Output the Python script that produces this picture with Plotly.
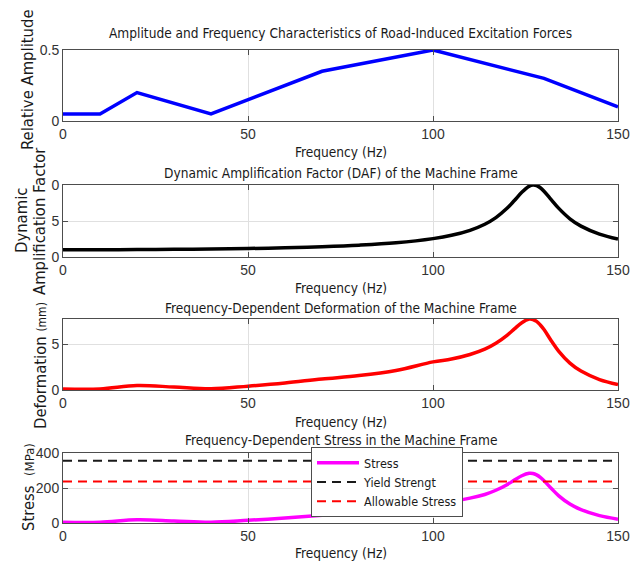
import plotly.graph_objects as go

# ---------------- data ----------------
amp_freq = [0, 10, 20, 40, 70, 100, 130, 150]
amp_vals = [0.05, 0.05, 0.20, 0.05, 0.35, 0.50, 0.30, 0.10]

freq = [0, 10, 20, 30, 40, 50, 60, 70, 80, 90, 100, 105, 110, 114, 117, 120,
        122, 124, 126, 127, 128, 129, 130, 132, 134, 137, 140, 145, 150]
daf = [1.00, 1.01, 1.03, 1.06, 1.11, 1.18, 1.28, 1.43, 1.64, 1.97, 2.55, 3.01,
       3.71, 4.55, 5.47, 6.76, 7.84, 8.98, 9.84, 10.0, 9.93, 9.62, 9.14, 7.94,
       6.75, 5.31, 4.29, 3.18, 2.49]
deformation = [0.12, 0.12, 0.49, 0.32, 0.13, 0.42, 0.77, 1.20, 1.57, 2.13, 3.06,
               3.37, 3.86, 4.44, 5.08, 5.95, 6.65, 7.33, 7.72, 7.68, 7.47, 7.08,
               6.58, 5.34, 4.21, 2.93, 2.06, 1.14, 0.60]
stress = [4.4, 4.4, 18, 11.8, 4.8, 15.5, 28.3, 44.2, 57.8, 78.4, 112.6, 124, 142,
          163, 187, 219, 245, 270, 284, 283, 275, 261, 242, 197, 155, 108, 76, 42, 22]
limit_freq = [0, 150]
yield_strength = [355, 355]
allowable_stress = [236.67, 236.67]

x_ticks = [0, 50, 100, 150]
titles = [
    "Amplitude and Frequency Characteristics of Road-Induced Excitation Forces",
    "Dynamic Amplification Factor (DAF) of the Machine Frame",
    "Frequency-Dependent Deformation of the Machine Frame",
    "Frequency-Dependent Stress in the Machine Frame",
]
x_label = "Frequency (Hz)"

# ---------------- layout helpers ----------------
W, H = 636, 563
def fx(p): return p / W
def fy(p): return 1 - p / H

TXT = "DejaVu Sans Condensed, DejaVu Sans, sans-serif"
TICK = "Liberation Sans, Arial, sans-serif"
AX = "#4d4d4d"
GRID = "#e0e0e0"

panels = [(50, 121), (185, 257), (319, 390), (453, 523)]  # pixel top/bottom
xdom = [fx(63), fx(618)]

fig = go.Figure()

fig.add_trace(go.Scatter(x=amp_freq, y=amp_vals, mode="lines",
                         line=dict(color="#0000ff", width=3.5),
                         xaxis="x", yaxis="y", showlegend=False))
fig.add_trace(go.Scatter(x=freq, y=daf, mode="lines",
                         line=dict(color="#000000", width=3.5, shape="spline"),
                         xaxis="x2", yaxis="y2", showlegend=False))
fig.add_trace(go.Scatter(x=freq, y=deformation, mode="lines",
                         line=dict(color="#ff0000", width=3.5, shape="spline"),
                         xaxis="x3", yaxis="y3", showlegend=False))
fig.add_trace(go.Scatter(x=freq, y=stress, mode="lines", name="Stress",
                         line=dict(color="#ff00ff", width=3.5, shape="spline"),
                         xaxis="x4", yaxis="y4"))
fig.add_trace(go.Scatter(x=limit_freq, y=yield_strength, mode="lines",
                         name="Yield Strengt",
                         line=dict(color="#1a1a1a", width=2, dash="9px,6px"),
                         xaxis="x4", yaxis="y4"))
fig.add_trace(go.Scatter(x=limit_freq, y=allowable_stress, mode="lines",
                         name="Allowable Stress",
                         line=dict(color="#ff0000", width=2, dash="9px,6px"),
                         xaxis="x4", yaxis="y4"))

common_axis = dict(showline=True, linecolor=AX, linewidth=1, mirror="ticks",
                   ticks="inside", ticklen=5, tickcolor=AX, showgrid=True,
                   gridcolor=GRID, gridwidth=1, zeroline=False, automargin=False,
                   tickfont=dict(family=TICK, size=14, color="#333333"))

yspecs = [
    dict(range=[0, 0.5], tickvals=[0, 0.5], ticktext=["0", "0.5"]),
    dict(range=[0, 10], tickvals=[0, 5, 10], ticktext=["0", "5", "0"]),
    dict(range=[0, 7.73], tickvals=[0, 5], ticktext=["0", "5"]),
    dict(range=[0, 400], tickvals=[0, 200, 400], ticktext=["0", "200", "400"]),
]

layout = dict(width=W, height=H, margin=dict(l=0, r=0, t=0, b=0, autoexpand=False),
              paper_bgcolor="white", plot_bgcolor="white",
              showlegend=True,
              legend=dict(x=fx(311), y=fy(447), xanchor="left", yanchor="top",
                          bgcolor="white", bordercolor="#4d4d4d", borderwidth=1,
                          font=dict(family=TXT, size=12.5, color="#1a1a1a"),
                          tracegroupgap=0, itemwidth=42))

for i, (top, bot) in enumerate(panels):
    n = "" if i == 0 else str(i + 1)
    layout["xaxis" + n] = dict(common_axis, domain=xdom, range=[0, 150],
                               tickvals=x_ticks, ticktext=[str(v) for v in x_ticks],
                               anchor="y" + n)
    layout["yaxis" + n] = dict(common_axis, domain=[fy(bot), fy(top)],
                               anchor="x" + n, **yspecs[i])

fig.update_layout(**layout)

ann = []
title_y = [33, 173, 308, 440]
xlab_y = [152, 288, 422, 553]
cx = (63 + 618) / 2
for t, ty, xy in zip(titles, title_y, xlab_y):
    ann.append(dict(text=t, x=fx(cx), y=fy(ty), xref="paper", yref="paper",
                    showarrow=False, xanchor="center", yanchor="middle",
                    font=dict(family=TXT, size=13.6, color="#1a1a1a")))
    ann.append(dict(text=x_label, x=fx(cx), y=fy(xy), xref="paper", yref="paper",
                    showarrow=False, xanchor="center", yanchor="middle",
                    font=dict(family=TXT, size=13.6, color="#1a1a1a")))

ylabels = [
    ("Relative Amplitude", 27, 80),
    ("Dynamic", 22, 221),
    ("Amplification Factor", 40, 221),
    ("Deformation <span style='font-size:12px'>(mm)</span>", 40, 366),
    ("Stress  <span style='font-size:13px'>(MPa)</span>", 28, 487),
]
for t, x, y in ylabels:
    ann.append(dict(text=t, x=fx(x), y=fy(y), xref="paper", yref="paper",
                    showarrow=False, xanchor="center", yanchor="middle",
                    textangle=-90,
                    font=dict(family=TXT, size=16.5, color="#1a1a1a")))

fig.update_layout(annotations=ann)
fig.write_html(
    "out.html",
    config={"displayModeBar": False},
    post_script="document.body.style.margin='0';document.body.style.padding='0';"
                "document.body.style.overflow='hidden';",
)
